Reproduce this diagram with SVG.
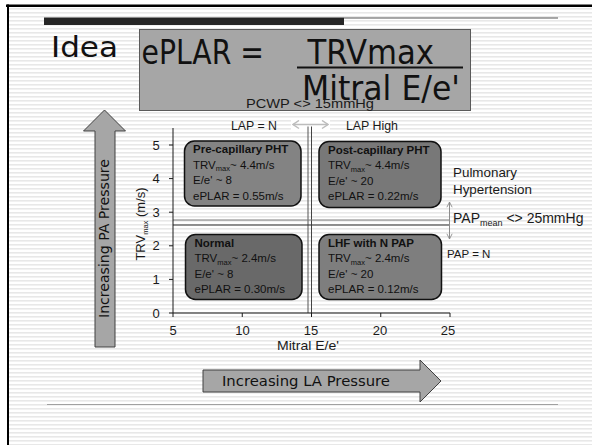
<svg xmlns="http://www.w3.org/2000/svg" width="592" height="445" viewBox="0 0 592 445">
<defs>
<pattern id="stripes" width="4" height="4" patternUnits="userSpaceOnUse">
<rect width="4" height="4" fill="#ffffff"/>
<rect y="0" width="4" height="1.6" fill="#e8e8e8"/>
</pattern>
<marker id="headLight" viewBox="0 0 8 10" refX="7" refY="5" markerWidth="8" markerHeight="10" markerUnits="userSpaceOnUse" orient="auto-start-reverse">
<path d="M1,1 L7,5 L1,9" fill="none" stroke="#bdbdbd" stroke-width="1.5"/>
</marker>
<marker id="headGray" viewBox="0 0 8 8" refX="7" refY="4" markerWidth="7" markerHeight="7" markerUnits="userSpaceOnUse" orient="auto-start-reverse">
<path d="M1,1 L7,4 L1,7" fill="none" stroke="#8c8c8c" stroke-width="1"/>
</marker>
</defs>
<style>
.sans{font-family:"Liberation Sans",Arial,sans-serif;fill:#1a1a1a}
.tah{font-family:"DejaVu Sans",Verdana,sans-serif;fill:#111}
.box{stroke:#111;stroke-width:1.5}
.bt{font-family:"Liberation Sans",Arial,sans-serif;font-size:11.5px;fill:#111}
.b{font-weight:bold}
.sub{font-size:7.5px}
.big{fill:#a6a6a6;stroke:#404040;stroke-width:1}
.ax{stroke:#1a1a1a;stroke-width:1;fill:none}
.tk{font-family:"Liberation Sans",Arial,sans-serif;font-size:13px;fill:#1a1a1a;text-anchor:middle}
</style>

<!-- background -->
<rect x="0" y="0" width="592" height="445" fill="#ffffff"/>
<rect x="9" y="7" width="583" height="438" fill="url(#stripes)"/>
<rect x="6" y="4.5" width="586" height="2.5" fill="#000"/>
<rect x="7" y="4.5" width="2" height="440.5" fill="#000"/>
<rect x="44" y="17.5" width="300" height="7.5" fill="#262626"/>
<line x1="344" y1="18" x2="558" y2="18" stroke="#555" stroke-width="1"/>
<line x1="47" y1="404.5" x2="558" y2="404.5" stroke="#a0a0a0" stroke-width="1"/>

<g id="title">
<text class="tah" x="51" y="57" font-size="29" textLength="67" lengthAdjust="spacingAndGlyphs">Idea</text>
</g>

<g id="formula">
<rect x="139.5" y="29.5" width="331" height="81" fill="#a6a6a6" stroke="#5a5a5a" stroke-width="1"/>
<text class="tah" x="141.5" y="64" font-size="33" textLength="122.5" lengthAdjust="spacingAndGlyphs">ePLAR =</text>
<text class="tah" x="307.5" y="64" font-size="33" textLength="126.5" lengthAdjust="spacingAndGlyphs">TRVmax</text>
<line x1="297" y1="67.5" x2="463" y2="67.5" stroke="#111" stroke-width="2"/>
<text class="tah" x="302" y="100" font-size="33" textLength="158" lengthAdjust="spacingAndGlyphs">Mitral E/e'</text>
</g>

<g id="pcwp-label">
<text class="sans" x="246" y="107.5" font-size="13" fill="#262626" textLength="128" lengthAdjust="spacingAndGlyphs">PCWP &lt;&gt; 15mmHg</text>
</g>
<g id="lap-n-label"><text class="sans" x="231" y="129.5" font-size="12" textLength="46" lengthAdjust="spacingAndGlyphs">LAP = N</text></g>
<g id="lap-high-label"><text class="sans" x="346" y="129.5" font-size="12" textLength="52" lengthAdjust="spacingAndGlyphs">LAP High</text></g>

<g id="connectors">
<!-- LAP double arrow -->
<rect x="291" y="119" width="39" height="12" fill="#ffffff"/>
<line x1="293" y1="124.5" x2="328" y2="124.5" stroke="#bdbdbd" stroke-width="1.5" marker-start="url(#headLight)" marker-end="url(#headLight)"/>
<!-- vertical divider -->
<line x1="308" y1="126.5" x2="308" y2="313" stroke="#555" stroke-width="1"/>
<line x1="311.5" y1="126.5" x2="311.5" y2="313" stroke="#444" stroke-width="1"/>
<!-- horizontal divider -->
<line x1="173" y1="220" x2="449" y2="220" stroke="#7a7a7a" stroke-width="1"/>
<line x1="173" y1="225" x2="449" y2="225" stroke="#333" stroke-width="1"/>
<!-- PAP double arrow -->
<line x1="449.5" y1="202" x2="449.5" y2="239" stroke="#8c8c8c" stroke-width="1" marker-start="url(#headGray)" marker-end="url(#headGray)"/>
<!-- axes -->
<path class="ax" d="M173,128 V313 H450"/>
<path class="ax" d="M169,145 H173 M169,178.6 H173 M169,212.2 H173 M169,245.8 H173 M169,279.4 H173 M169,313 H173"/>
<path class="ax" d="M173,313 V317 M242.25,313 V317 M311.5,313 V317 M380.75,313 V317 M450,313 V317"/>
</g>

<g id="y-axis-labels">
<text class="tk" x="156" y="149.5">5</text>
<text class="tk" x="156" y="183">4</text>
<text class="tk" x="156" y="216.5">3</text>
<text class="tk" x="156" y="250">2</text>
<text class="tk" x="156" y="284">1</text>
<text class="tk" x="156" y="317.5">0</text>
<text class="sans" font-size="13" text-anchor="middle" transform="translate(145,224) rotate(-90)">TRV<tspan class="sub" font-size="8" dy="2.5">max</tspan><tspan dy="-2.5"> (m/s)</tspan></text>
</g>

<g id="x-axis-labels">
<text class="tk" x="173" y="335">5</text>
<text class="tk" x="242.5" y="335">10</text>
<text class="tk" x="311" y="335">15</text>
<text class="tk" x="380" y="335">20</text>
<text class="tk" x="448" y="335">25</text>
<text class="tk" x="308" y="350" textLength="62" lengthAdjust="spacingAndGlyphs">Mitral E/e'</text>
</g>

<g id="pre-capillary">
<rect class="box" x="184.5" y="141" width="116.5" height="65" rx="10" fill="#838383"/>
<text class="bt b" x="193" y="153">Pre-capillary PHT</text>
<text class="bt" x="193" y="168.5">TRV<tspan class="sub" dy="2.5">max</tspan><tspan dy="-2.5">~ 4.4m/s</tspan></text>
<text class="bt" x="193" y="184">E/e' ~ 8</text>
<text class="bt" x="193" y="199.5">ePLAR = 0.55m/s</text>
</g>

<g id="post-capillary">
<rect class="box" x="319" y="141.5" width="122" height="66" rx="10" fill="#787878"/>
<text class="bt b" x="328" y="153.5">Post-capillary PHT</text>
<text class="bt" x="328" y="169">TRV<tspan class="sub" dy="2.5">max</tspan><tspan dy="-2.5">~ 4.4m/s</tspan></text>
<text class="bt" x="328" y="184.5">E/e' ~ 20</text>
<text class="bt" x="328" y="200">ePLAR = 0.22m/s</text>
</g>

<g id="normal">
<rect class="box" x="185.5" y="234.5" width="116.5" height="65" rx="10" fill="#696969"/>
<text class="bt b" x="194.5" y="246.5">Normal</text>
<text class="bt" x="194.5" y="262">TRV<tspan class="sub" dy="2.5">max</tspan><tspan dy="-2.5">~ 2.4m/s</tspan></text>
<text class="bt" x="194.5" y="277.5">E/e' ~ 8</text>
<text class="bt" x="194.5" y="293">ePLAR = 0.30m/s</text>
</g>

<g id="lhf-normal-pap">
<rect class="box" x="319" y="234.5" width="122.5" height="65" rx="10" fill="#7e7e7e"/>
<text class="bt b" x="328" y="246.5">LHF with N PAP</text>
<text class="bt" x="328" y="262">TRV<tspan class="sub" dy="2.5">max</tspan><tspan dy="-2.5">~ 2.4m/s</tspan></text>
<text class="bt" x="328" y="277.5">E/e' ~ 20</text>
<text class="bt" x="328" y="293">ePLAR = 0.12m/s</text>
</g>

<g id="ph-label">
<text class="sans" x="453" y="177" font-size="13.4">Pulmonary</text>
<text class="sans" x="453" y="194" font-size="13.4">Hypertension</text>
</g>
<g id="pap-mean-label">
<text class="sans" x="453" y="223" font-size="14">PAP<tspan font-size="9" dy="3">mean</tspan><tspan dy="-3"> &lt;&gt; 25mmHg</tspan></text>
</g>
<g id="pap-n-label">
<text class="sans" x="447" y="258" font-size="11.5">PAP = N</text>
</g>

<g id="pa-pressure-arrow">
<path class="big" d="M95,347 V131 H83.5 L104.5,110 L125.5,131 H115 V347 Z"/>
<text class="tah" font-size="14" fill="#1a1a1a" text-anchor="middle" transform="translate(109,238.5) rotate(-90)" textLength="159" lengthAdjust="spacingAndGlyphs">Increasing PA Pressure</text>
</g>

<g id="la-pressure-arrow">
<path class="big" d="M203,370 H420 V360 L441,381 L420,402 V392 H203 Z"/>
<text class="tah" x="222" y="386" font-size="14.5" fill="#1a1a1a" textLength="168" lengthAdjust="spacingAndGlyphs">Increasing LA Pressure</text>
</g>
</svg>
